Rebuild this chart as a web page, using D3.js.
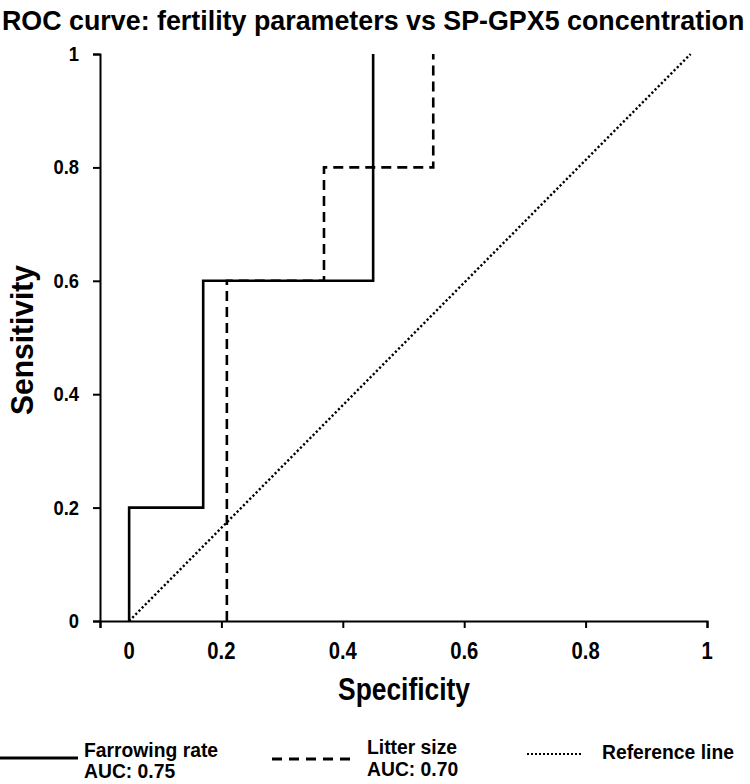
<!DOCTYPE html>
<html>
<head>
<meta charset="utf-8">
<script src="https://cdn.jsdelivr.net/npm/d3@7"></script>
<style>
  html, body { margin: 0; padding: 0; background: #fff; }
  svg { display: block; }
  text { font-family: "Liberation Sans Narrow", "Arial Narrow", "Liberation Sans", Arial, sans-serif; fill: #000; font-weight: bold; }
</style>
</head>
<body>
<svg id="chart" width="750" height="784"></svg>
<script>
// ---- data ----
const title = "ROC curve: fertility parameters vs SP-GPX5 concentration";
const xTickValues = [0, 0.2, 0.4, 0.6, 0.8, 1];
const xTickLabels = ["0", "0.2", "0.4", "0.6", "0.8", "1"];
const yTickValues = [0, 0.2, 0.4, 0.6, 0.8, 1];
const yTickLabels = ["0", "0.2", "0.4", "0.6", "0.8", "1"];

const farrowingX = [0.048, 0.048, 0.170, 0.170, 0.450, 0.450];
const farrowingY = [0, 0.2, 0.2, 0.6, 0.6, 1.0];

const litterX = [0.209, 0.209, 0.369, 0.369, 0.549, 0.549];
const litterY = [0, 0.6, 0.6, 0.8, 0.8, 1.0];

const referenceX = [0.048, 0.973];
const referenceY = [0, 1];

const legendNames = ["Farrowing rate", "Litter size", "Reference line"];
const legendAUC = ["AUC: 0.75", "AUC: 0.70", ""];

// ---- helper: place a horizontally condensed text via transform ----
function addText(parent, str, px, py, size, anchor, factor, target, rotate) {
  const t = parent.append("text")
    .attr("font-size", size)
    .attr("text-anchor", anchor)
    .text(str);
  const w = t.node().getComputedTextLength();
  const s = target ? target / w : factor;
  t.attr("transform", `translate(${px},${py})${rotate ? ` rotate(${rotate})` : ""} scale(${s},1)`);
  return t;
}

// ---- layout ----
const svg = d3.select("#chart");
const x = d3.scaleLinear().domain([0, 1]).range([100, 707]);
const y = d3.scaleLinear().domain([0, 1]).range([621, 54]);

// title
addText(svg, title, 2, 30, 28, "start", null, 743);

// axes
const xAxis = d3.axisBottom(x).tickValues(xTickValues).tickSize(7).tickFormat("");
const gx = svg.append("g").attr("transform", `translate(0,${y(0)})`).call(xAxis);
const yAxis = d3.axisLeft(y).tickValues(yTickValues).tickSize(7).tickFormat("");
const gy = svg.append("g").attr("transform", `translate(${x(0)},0)`).call(yAxis);
[gx, gy].forEach(g => {
  g.selectAll(".domain").attr("stroke", "#000").attr("stroke-width", 2);
  g.selectAll(".tick line").attr("stroke", "#000").attr("stroke-width", 2);
});

// x tick labels ("0" sits at the curve origin as in the reference)
const gxl = svg.append("g");
xTickValues.forEach((d, i) => {
  addText(gxl, xTickLabels[i], i === 0 ? x(farrowingX[0]) : x(d), 659, 23, "middle", 0.88);
});

// y tick labels
const gyl = svg.append("g");
yTickValues.forEach((d, i) => {
  addText(gyl, yTickLabels[i], 79, y(d) + 7, 20, "end", 0.92);
});

// axis titles
addText(svg, "Specificity", 404, 700, 31, "middle", null, 132);
addText(svg, "Sensitivity", 33, 340, 31, "middle", null, 150, -90);

// curves
const line = d3.line().x(d => x(d[0])).y(d => y(d[1]));
const toPts = (xs, ys) => xs.map((v, i) => [v, ys[i]]);

svg.append("path")
  .datum(toPts(referenceX, referenceY))
  .attr("d", line).attr("fill", "none")
  .attr("stroke", "#000").attr("stroke-width", 2.4)
  .attr("stroke-dasharray", "2.2,2.3");

svg.append("path")
  .datum(toPts(litterX, litterY))
  .attr("d", line).attr("fill", "none")
  .attr("stroke", "#000").attr("stroke-width", 2.6)
  .attr("stroke-dasharray", "10,6");

svg.append("path")
  .datum(toPts(farrowingX, farrowingY))
  .attr("d", line).attr("fill", "none")
  .attr("stroke", "#000").attr("stroke-width", 2.6);

// legend
const legendItems = [
  { lx0: 0, lx1: 78, ly: 758, tx: 84, ty1: 757, ty2: 778, dash: null, w: 2.8 },
  { lx0: 272, lx1: 350, ly: 759, tx: 367, ty1: 754, ty2: 776, dash: "10,7", w: 2.8 },
  { lx0: 527, lx1: 583, ly: 754, tx: 602, ty1: 759, ty2: 0, dash: "2,2", w: 2 }
];
legendItems.forEach((it, i) => {
  const g = svg.append("g");
  g.append("line").attr("x1", it.lx0).attr("x2", it.lx1)
    .attr("y1", it.ly).attr("y2", it.ly)
    .attr("stroke", "#000").attr("stroke-width", it.w)
    .attr("stroke-dasharray", it.dash);
  addText(g, legendNames[i], it.tx, it.ty1, 21, "start", 0.92);
  if (legendAUC[i]) addText(g, legendAUC[i], it.tx, it.ty2, 21, "start", 0.92);
});
</script>
</body>
</html>
